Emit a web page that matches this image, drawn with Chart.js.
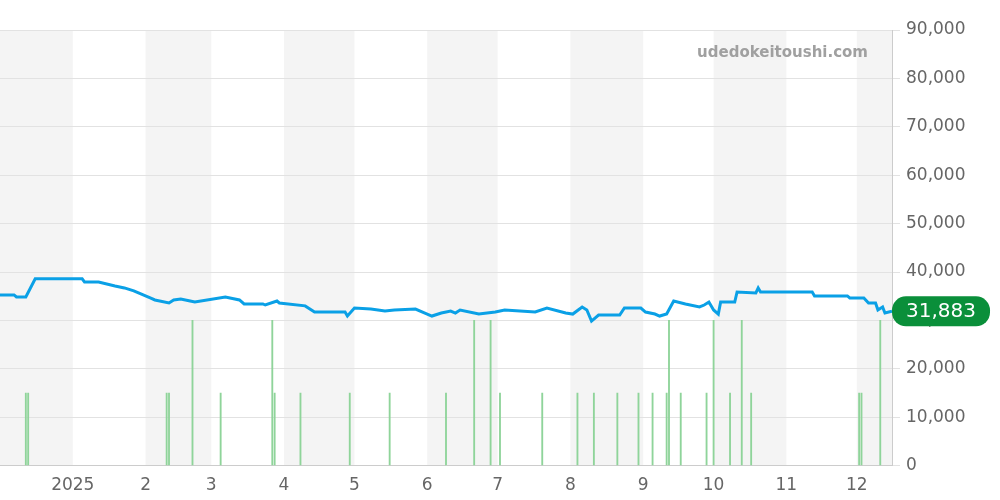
<!DOCTYPE html>
<html><head><meta charset="utf-8">
<script src="https://cdn.jsdelivr.net/npm/chart.js@4"></script>
<style>html,body{margin:0;padding:0;background:#fff}#w{width:1000px;height:500px;position:relative}</style>
</head><body><div id="w"><canvas id="c"></canvas></div>
<script>
const priceDays=[0,6,7,11,15,35,36,42,49,53,57,60,64,66,72,74,77,81,83,96,102,104,112,113,118,119,130,134,147,148,151,158,164,168,177,181,184,188,192,194,196,204,211,215,228,233,241,244,248,250,252,255,264,266,273,275,279,281,284,287,292,298,300,302,304,306,307,313,314,322,323,324,346,347,361,362,368,370,373,374,376,377,380];
const priceVals=[35260,35260,34840,34840,38580,38580,37950,37950,37120,36710,36090,35460,34640,34220,33600,34220,34420,34010,33800,34840,34220,33390,33390,33180,34010,33600,33000,31730,31730,30900,32560,32350,31940,32150,32350,31520,30900,31520,31940,31520,32150,31310,31730,32150,31730,32560,31520,31310,32770,32150,29860,31100,31100,32560,32560,31730,31310,30900,31310,34010,33390,32770,33180,33800,32150,31310,33800,33800,35880,35670,36710,35880,35880,35050,35050,34640,34640,33600,33600,32150,32770,31520,31883];
const volDays=[11,12,71,72,82,94,116,117,128,149,166,190,202,209,213,231,246,253,263,272,278,284,285,290,301,304,311,316,320,366,367,375];
const volVals=[15000,15000,15000,15000,30000,15000,30000,15000,15000,15000,15000,15000,30000,30000,15000,15000,15000,15000,15000,15000,15000,15000,30000,15000,15000,30000,15000,30000,15000,15000,15000,30000];
const monthDays=[31,62,90,121,151,182,212,243,274,304,335,365];
const monthLabels=['2025','2','3','4','5','6','7','8','9','10','11','12'];
const shadedMonths=[[0,31],[62,90],[121,151],[182,212],[243,274],[304,335],[365,380]];
const lastPrice=31883;

const bgPlugin={id:'bg',beforeDraw(ch){const {ctx,chartArea:a,scales:{x}}=ch;ctx.save();ctx.fillStyle='#f4f4f4';
 shadedMonths.forEach(([s,e])=>{const x1=x.getPixelForValue(s),x2=x.getPixelForValue(e);ctx.fillRect(x1,a.top,x2-x1,a.bottom-a.top);});ctx.restore();},
 afterDraw(ch){const {ctx,chartArea:a,scales:{y}}=ch;ctx.save();
 ctx.fillStyle='#a0a0a0';ctx.font='bold 15px "DejaVu Sans"';ctx.textAlign='right';ctx.textBaseline='middle';ctx.fillText('udedokeitoushi.com',868,53);
 const py=y.getPixelForValue(lastPrice);ctx.fillStyle='#0a8f3a';const bx=892,bw=98,bh=30;ctx.beginPath();ctx.roundRect(bx,py-bh/2,bw,bh,14);ctx.fill();
 ctx.fillStyle='#fff';ctx.font='20px "DejaVu Sans"';ctx.textAlign='center';ctx.fillText(lastPrice.toLocaleString('en-US'),bx+bw/2,py+1);ctx.restore();}};

new Chart(document.getElementById('c'),{
 data:{datasets:[
  {type:'line',data:priceDays.map((d,i)=>({x:d,y:priceVals[i]})),borderColor:'#0aa0e6',borderWidth:3,pointRadius:0,tension:0,order:1},
  {type:'bar',data:volDays.map((d,i)=>({x:d,y:volVals[i]})),backgroundColor:'#8fd49a',barThickness:1.2,order:2}
 ]},
 options:{responsive:true,maintainAspectRatio:false,animation:false,
  layout:{padding:{top:30,right:0,left:0,bottom:0}},
  plugins:{legend:{display:false},tooltip:{enabled:false}},
  scales:{
   x:{type:'linear',min:0,max:380,offset:false,afterBuildTicks(s){s.ticks=monthDays.map(v=>({value:v}));},
    ticks:{autoSkip:false,maxRotation:0,padding:4,color:'#666',font:{size:17,family:'DejaVu Sans'},callback:(v)=>monthLabels[monthDays.indexOf(v)]},
    grid:{display:false,drawTicks:true,tickLength:6},border:{color:'#ccc'}},
   y:{position:'right',min:0,max:90000,afterBuildTicks(s){s.ticks=[0,1,2,3,4,5,6,7,8,9].map(i=>({value:i*10000}));},
    ticks:{color:'#666',font:{size:17,family:'DejaVu Sans'},padding:6,callback:v=>v.toLocaleString('en-US')},
    grid:{color:'#e2e2e2',tickLength:8},border:{color:'#ccc'},afterFit(s){s.width=108;}}
  }},
 plugins:[bgPlugin]});
</script></body></html>
